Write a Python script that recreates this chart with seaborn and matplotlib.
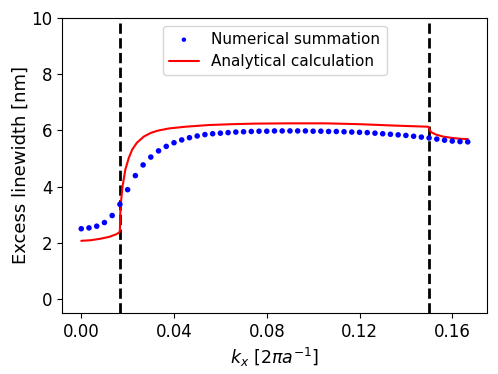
import numpy as np
import pandas as pd
import matplotlib
matplotlib.use("Agg")
import matplotlib.pyplot as plt
import seaborn as sns

# numerical summation: 51 points, k_x from 0 to 1/6 in steps of 1/300
kx_num = np.arange(51) / 300
lw_num = [2.50, 2.53, 2.59, 2.72, 2.97, 3.37, 3.89, 4.39, 4.77, 5.05,
          5.27, 5.43, 5.56, 5.66, 5.74, 5.80, 5.85, 5.88, 5.90, 5.92,
          5.94, 5.95, 5.96, 5.97, 5.97, 5.98, 5.98, 5.98, 5.98, 5.98,
          5.97, 5.97, 5.96, 5.96, 5.95, 5.94, 5.93, 5.92, 5.90, 5.88,
          5.86, 5.84, 5.82, 5.79, 5.76, 5.73, 5.69, 5.65, 5.62, 5.60,
          5.59]

# analytical calculation
kx_ana = [0.0, 0.004, 0.008, 0.012, 0.015, 0.0163, 0.01667, 0.0168, 0.0172,
          0.0178, 0.019, 0.0205, 0.022, 0.024, 0.027, 0.030, 0.033, 0.038,
          0.045, 0.055, 0.065, 0.075, 0.09, 0.105, 0.12, 0.135, 0.1495,
          0.1500, 0.1503, 0.151, 0.153, 0.156, 0.160, 0.1635, 0.1667]
lw_ana = [2.07, 2.09, 2.14, 2.21, 2.30, 2.36, 2.42, 3.00, 3.50,
          4.00, 4.60, 5.02, 5.32, 5.56, 5.78, 5.91, 5.99, 6.07,
          6.13, 6.19, 6.22, 6.24, 6.25, 6.25, 6.22, 6.17, 6.13,
          6.10, 6.00, 5.93, 5.85, 5.78, 5.73, 5.70, 5.69]

# band edges
kx_edges = [1 / 60, 0.15]

df_num = pd.DataFrame({"kx": kx_num, "lw": lw_num})
df_ana = pd.DataFrame({"kx": kx_ana, "lw": lw_ana})

sns.set_style("ticks", rc={
    "axes.edgecolor": "black",
    "axes.labelcolor": "black",
    "text.color": "black",
    "xtick.color": "black",
    "ytick.color": "black",
    "xtick.major.size": 3.5,
    "ytick.major.size": 3.5,
    "xtick.major.width": 0.8,
    "ytick.major.width": 0.8,
    "axes.linewidth": 0.8,
})
plt.rcParams["font.family"] = ["DejaVu Sans"]
plt.rcParams["font.size"] = 12
plt.rcParams["mathtext.fontset"] = "dejavusans"

fig, ax = plt.subplots(figsize=(4.98, 3.74), dpi=100)
fig.subplots_adjust(left=0.1245, right=0.978, top=0.952, bottom=0.163)

sns.scatterplot(data=df_num, x="kx", y="lw", ax=ax, color="blue", s=16,
                edgecolor="none", label="Numerical summation", zorder=3)
sns.lineplot(data=df_ana, x="kx", y="lw", ax=ax, color="red", linewidth=1.5,
             label="Analytical calculation", zorder=2)
for k in kx_edges:
    ax.axvline(k, color="black", linestyle="--", linewidth=2, zorder=1)

ax.set_ylim(-0.5, 10)
ax.set_xlim(-0.0083, 0.175)
ax.set_xticks([0.0, 0.04, 0.08, 0.12, 0.16])
ax.set_xticklabels(["0.00", "0.04", "0.08", "0.12", "0.16"])
ax.set_yticks([0, 2, 4, 6, 8, 10])
ax.set_xlabel(r"$k_x$ [$2\pi a^{-1}$]", fontsize=12.5)
ax.set_ylabel("Excess linewidth [nm]", fontsize=13, labelpad=1)
ax.tick_params(labelsize=12)
ax.legend(loc="upper center", fontsize=11, markerscale=0.8)

fig.savefig("out.png", dpi=100)
